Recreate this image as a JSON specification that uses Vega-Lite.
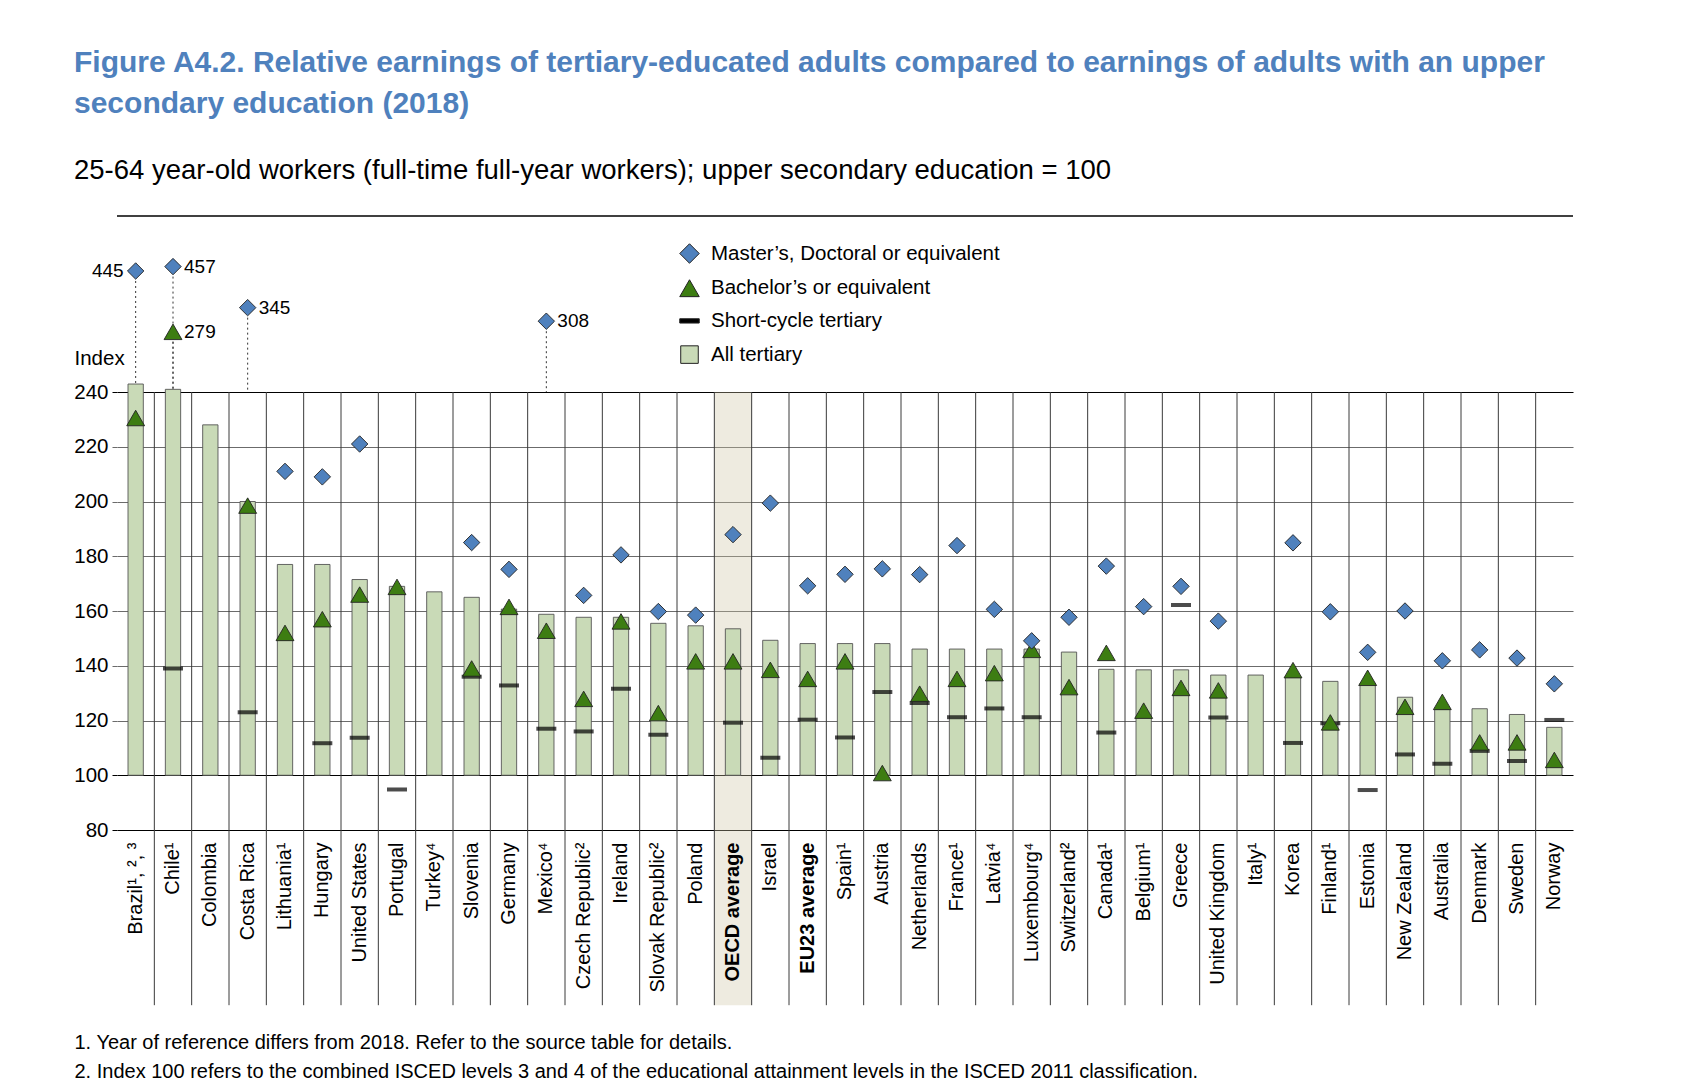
{
  "$schema": "https://vega.github.io/schema/vega-lite/v6.json",
  "description": "Relative earnings of tertiary-educated adults, by level of tertiary education (2018)",
  "autosize": {"type": "none"},
  "padding": {"left": 117, "top": 216, "right": 134, "bottom": 255},
  "width": 1456,
  "height": 614,
  "title": {
    "text": ["Figure A4.2. Relative earnings of tertiary-educated adults compared to earnings of adults with an upper", "secondary education (2018)"],
    "subtitle": "25-64 year-old workers (full-time full-year workers); upper secondary education = 100",
    "anchor": "start",
    "frame": "group",
    "dx": -43,
    "fontSize": 30,
    "lineHeight": 41,
    "fontWeight": "bold",
    "color": "#4F81BD",
    "subtitleFontSize": 27.5,
    "subtitleColor": "#000000",
    "subtitlePadding": 38,
    "offset": 31,
    "limit": 1700
  },
  "datasets": {
    "edu": [
      {"c": "Brazil¹, ², ³", "l": "all", "v": 243},
      {"c": "Brazil¹, ², ³", "l": "bachelor", "v": 230.5},
      {"c": "Brazil¹, ², ³", "l": "master", "v": 445},
      {"c": "Chile¹", "l": "all", "v": 241},
      {"c": "Chile¹", "l": "short", "v": 139},
      {"c": "Chile¹", "l": "bachelor", "v": 279},
      {"c": "Chile¹", "l": "master", "v": 457},
      {"c": "Colombia", "l": "all", "v": 228},
      {"c": "Costa Rica", "l": "all", "v": 200},
      {"c": "Costa Rica", "l": "short", "v": 123},
      {"c": "Costa Rica", "l": "bachelor", "v": 198.5},
      {"c": "Costa Rica", "l": "master", "v": 345},
      {"c": "Lithuania¹", "l": "all", "v": 177},
      {"c": "Lithuania¹", "l": "bachelor", "v": 152},
      {"c": "Lithuania¹", "l": "master", "v": 211},
      {"c": "Hungary", "l": "all", "v": 177},
      {"c": "Hungary", "l": "short", "v": 111.7},
      {"c": "Hungary", "l": "bachelor", "v": 157},
      {"c": "Hungary", "l": "master", "v": 209},
      {"c": "United States", "l": "all", "v": 171.5},
      {"c": "United States", "l": "short", "v": 113.7},
      {"c": "United States", "l": "bachelor", "v": 166},
      {"c": "United States", "l": "master", "v": 221},
      {"c": "Portugal", "l": "all", "v": 169},
      {"c": "Portugal", "l": "short", "v": 94.8},
      {"c": "Portugal", "l": "bachelor", "v": 168.8},
      {"c": "Turkey⁴", "l": "all", "v": 167},
      {"c": "Slovenia", "l": "all", "v": 165},
      {"c": "Slovenia", "l": "short", "v": 136},
      {"c": "Slovenia", "l": "bachelor", "v": 139},
      {"c": "Slovenia", "l": "master", "v": 185},
      {"c": "Germany", "l": "all", "v": 160.7},
      {"c": "Germany", "l": "short", "v": 132.8},
      {"c": "Germany", "l": "bachelor", "v": 161.5},
      {"c": "Germany", "l": "master", "v": 175.2},
      {"c": "Mexico⁴", "l": "all", "v": 158.8},
      {"c": "Mexico⁴", "l": "short", "v": 117},
      {"c": "Mexico⁴", "l": "bachelor", "v": 152.8},
      {"c": "Mexico⁴", "l": "master", "v": 308},
      {"c": "Czech Republic²", "l": "all", "v": 157.7},
      {"c": "Czech Republic²", "l": "short", "v": 116},
      {"c": "Czech Republic²", "l": "bachelor", "v": 127.9},
      {"c": "Czech Republic²", "l": "master", "v": 165.7},
      {"c": "Ireland", "l": "all", "v": 157.7},
      {"c": "Ireland", "l": "short", "v": 131.6},
      {"c": "Ireland", "l": "bachelor", "v": 156.2},
      {"c": "Ireland", "l": "master", "v": 180.5},
      {"c": "Slovak Republic²", "l": "all", "v": 155.5},
      {"c": "Slovak Republic²", "l": "short", "v": 114.8},
      {"c": "Slovak Republic²", "l": "bachelor", "v": 122.7},
      {"c": "Slovak Republic²", "l": "master", "v": 159.8},
      {"c": "Poland", "l": "all", "v": 154.6},
      {"c": "Poland", "l": "bachelor", "v": 141.6},
      {"c": "Poland", "l": "master", "v": 158.5},
      {"c": "OECD average", "l": "all", "v": 153.5},
      {"c": "OECD average", "l": "short", "v": 119.2},
      {"c": "OECD average", "l": "bachelor", "v": 141.6},
      {"c": "OECD average", "l": "master", "v": 187.9},
      {"c": "Israel", "l": "all", "v": 149.3},
      {"c": "Israel", "l": "short", "v": 106.4},
      {"c": "Israel", "l": "bachelor", "v": 138.5},
      {"c": "Israel", "l": "master", "v": 199.4},
      {"c": "EU23 average", "l": "all", "v": 148.1},
      {"c": "EU23 average", "l": "short", "v": 120.3},
      {"c": "EU23 average", "l": "bachelor", "v": 135.2},
      {"c": "EU23 average", "l": "master", "v": 169.2},
      {"c": "Spain¹", "l": "all", "v": 148.1},
      {"c": "Spain¹", "l": "short", "v": 113.8},
      {"c": "Spain¹", "l": "bachelor", "v": 141.6},
      {"c": "Spain¹", "l": "master", "v": 173.4},
      {"c": "Austria", "l": "all", "v": 148.1},
      {"c": "Austria", "l": "short", "v": 130.4},
      {"c": "Austria", "l": "bachelor", "v": 100.8},
      {"c": "Austria", "l": "master", "v": 175.4},
      {"c": "Netherlands", "l": "all", "v": 146.1},
      {"c": "Netherlands", "l": "short", "v": 126.4},
      {"c": "Netherlands", "l": "bachelor", "v": 129.8},
      {"c": "Netherlands", "l": "master", "v": 173.3},
      {"c": "France¹", "l": "all", "v": 146.1},
      {"c": "France¹", "l": "short", "v": 121.2},
      {"c": "France¹", "l": "bachelor", "v": 135.2},
      {"c": "France¹", "l": "master", "v": 183.9},
      {"c": "Latvia⁴", "l": "all", "v": 146.1},
      {"c": "Latvia⁴", "l": "short", "v": 124.4},
      {"c": "Latvia⁴", "l": "bachelor", "v": 137.3},
      {"c": "Latvia⁴", "l": "master", "v": 160.6},
      {"c": "Luxembourg⁴", "l": "all", "v": 146.1},
      {"c": "Luxembourg⁴", "l": "short", "v": 121.2},
      {"c": "Luxembourg⁴", "l": "bachelor", "v": 145.8},
      {"c": "Luxembourg⁴", "l": "master", "v": 149.1},
      {"c": "Switzerland²", "l": "all", "v": 145},
      {"c": "Switzerland²", "l": "bachelor", "v": 132.2},
      {"c": "Switzerland²", "l": "master", "v": 157.7},
      {"c": "Canada¹", "l": "all", "v": 138.7},
      {"c": "Canada¹", "l": "short", "v": 115.6},
      {"c": "Canada¹", "l": "bachelor", "v": 144.7},
      {"c": "Canada¹", "l": "master", "v": 176.4},
      {"c": "Belgium¹", "l": "all", "v": 138.5},
      {"c": "Belgium¹", "l": "bachelor", "v": 123.6},
      {"c": "Belgium¹", "l": "master", "v": 161.6},
      {"c": "Greece", "l": "all", "v": 138.5},
      {"c": "Greece", "l": "short", "v": 162.2},
      {"c": "Greece", "l": "bachelor", "v": 131.9},
      {"c": "Greece", "l": "master", "v": 169},
      {"c": "United Kingdom", "l": "all", "v": 136.6},
      {"c": "United Kingdom", "l": "short", "v": 121.1},
      {"c": "United Kingdom", "l": "bachelor", "v": 131},
      {"c": "United Kingdom", "l": "master", "v": 156.3},
      {"c": "Italy¹", "l": "all", "v": 136.6},
      {"c": "Korea", "l": "all", "v": 136},
      {"c": "Korea", "l": "short", "v": 111.8},
      {"c": "Korea", "l": "bachelor", "v": 138.4},
      {"c": "Korea", "l": "master", "v": 184.9},
      {"c": "Finland¹", "l": "all", "v": 134.3},
      {"c": "Finland¹", "l": "short", "v": 119},
      {"c": "Finland¹", "l": "bachelor", "v": 119.3},
      {"c": "Finland¹", "l": "master", "v": 159.7},
      {"c": "Estonia", "l": "all", "v": 133.6},
      {"c": "Estonia", "l": "short", "v": 94.6},
      {"c": "Estonia", "l": "bachelor", "v": 135.6},
      {"c": "Estonia", "l": "master", "v": 144.9},
      {"c": "New Zealand", "l": "all", "v": 128.5},
      {"c": "New Zealand", "l": "short", "v": 107.6},
      {"c": "New Zealand", "l": "bachelor", "v": 125},
      {"c": "New Zealand", "l": "master", "v": 160},
      {"c": "Australia", "l": "all", "v": 124},
      {"c": "Australia", "l": "short", "v": 104.2},
      {"c": "Australia", "l": "bachelor", "v": 126.8},
      {"c": "Australia", "l": "master", "v": 141.8},
      {"c": "Denmark", "l": "all", "v": 124.3},
      {"c": "Denmark", "l": "short", "v": 108.9},
      {"c": "Denmark", "l": "bachelor", "v": 112},
      {"c": "Denmark", "l": "master", "v": 145.8},
      {"c": "Sweden", "l": "all", "v": 122.2},
      {"c": "Sweden", "l": "short", "v": 105.2},
      {"c": "Sweden", "l": "bachelor", "v": 112},
      {"c": "Sweden", "l": "master", "v": 142.8},
      {"c": "Norway", "l": "all", "v": 117.5},
      {"c": "Norway", "l": "short", "v": 120.2},
      {"c": "Norway", "l": "bachelor", "v": 105.6},
      {"c": "Norway", "l": "master", "v": 133.4}
    ]
  },
  "data": {"name": "edu"},
  "layer": [
    {
      "transform": [{"filter": "datum.l == 'all'"}],
      "mark": {"type": "bar", "fill": "#C9DAB7", "width": {"band": 0.41}, "opacity": 0},
      "encoding": {
        "x": {
          "field": "c", "type": "nominal", "sort": null,
          "scale": {"paddingInner": 0, "paddingOuter": 0},
          "axis": {
            "orient": "bottom",
            "zindex": 1,
            "domain": false,
            "ticks": false,
            "tickSize": 0,
            "labelAngle": 270,
            "labelFontSize": 20,
            "labelPadding": 12,
            "labelColor": "#000000",
            "labelLimit": 0,
            "labelOverlap": false,
            "labelFontWeight": {"condition": {"test": "indexof(datum.label, 'average') >= 0", "value": "bold"}, "value": "normal"},
            "title": ["1. Year of reference differs from 2018. Refer to the source table for details.", "2. Index 100 refers to the combined ISCED levels 3 and 4 of the educational attainment levels in the ISCED 2011 classification."],
            "titleX": -43,
            "titleY": 202,
            "titleAlign": "left",
            "titleAnchor": "start",
            "titleBaseline": "top",
            "titleFontSize": 20,
            "titleFontWeight": "normal",
            "titleLineHeight": 29,
            "titleColor": "#000000",
            "titleLimit": 0
          }
        },
        "y": {
          "field": "v", "type": "quantitative",
          "scale": {"domain": [80, 240, 260, 595], "range": [614, 176, 122.8, 0], "zero": false, "nice": false},
          "axis": {
            "values": [80, 100, 120, 140, 160, 180, 200, 220, 240],
            "zindex": 0,
            "domain": false,
            "grid": true,
            "gridColor": {"condition": {"test": "datum.value == 80 || datum.value == 100 || datum.value == 240", "value": "#000000"}, "value": "#6b6b6b"},
            "gridWidth": 1.1,
            "tickColor": {"condition": {"test": "datum.value == 80 || datum.value == 100 || datum.value == 240", "value": "#000000"}, "value": "#6b6b6b"},
            "tickSize": 5,
            "labelFontSize": 20.5,
            "labelPadding": 4,
            "labelColor": "#000000",
            "title": "Index",
            "titleAngle": 0,
            "titleX": -43,
            "titleY": 142,
            "titleAlign": "left",
            "titleBaseline": "middle",
            "titleFontSize": 20.5,
            "titleFontWeight": "normal",
            "titleColor": "#000000"
          }
        },
        "y2": {"datum": 100}
      }
    },
    {
      "transform": [{"filter": "datum.l == 'all' && datum.c == 'OECD average'"}],
      "mark": {"type": "rect", "fill": "#CEC6A6", "opacity": 0.35},
      "encoding": {
        "x": {"field": "c", "type": "nominal", "sort": null},
        "y": {"datum": 240},
        "y2": {"datum": 16}
      }
    },
    {
      "data": {"values": [{"edge": "top"}]},
      "mark": {"type": "rule", "color": "#000000", "strokeWidth": 1.3},
      "encoding": {
        "y": {"datum": 595}
      }
    },
    {
      "transform": [{"filter": "datum.l == 'all' && indexof(datum.c, 'Brazil') < 0"}],
      "mark": {"type": "rule", "color": "#3a3a3a", "strokeWidth": 1},
      "encoding": {
        "x": {"field": "c", "type": "nominal", "sort": null, "bandPosition": 0},
        "y": {"datum": 240},
        "y2": {"datum": 16}
      }
    },
    {
      "transform": [{"filter": "datum.v > 240 && datum.l != 'all'"}],
      "mark": {"type": "rule", "color": "#333333", "strokeWidth": 1, "strokeDash": [2, 3]},
      "encoding": {
        "x": {"field": "c", "type": "nominal", "sort": null},
        "y": {"field": "v", "type": "quantitative"},
        "y2": {"datum": 240}
      }
    },
    {
      "transform": [{"filter": "datum.l == 'all'"}],
      "mark": {"type": "bar", "fill": "#C9DAB7", "stroke": "#555555", "strokeWidth": 0.9, "width": {"band": 0.41}},
      "encoding": {
        "x": {"field": "c", "type": "nominal", "sort": null},
        "y": {"field": "v", "type": "quantitative"},
        "y2": {"datum": 100}
      }
    },
    {
      "transform": [{"filter": "datum.l == 'short'"}],
      "mark": {"type": "tick", "color": "#000000", "thickness": 4, "size": 20},
      "encoding": {
        "x": {"field": "c", "type": "nominal", "sort": null},
        "y": {"field": "v", "type": "quantitative"}
      }
    },
    {
      "transform": [{"filter": "datum.l == 'master' || datum.l == 'bachelor'"}],
      "mark": {"type": "point", "filled": true, "opacity": 1, "stroke": "#222222", "strokeWidth": 0.9},
      "encoding": {
        "x": {"field": "c", "type": "nominal", "sort": null},
        "y": {"field": "v", "type": "quantitative"},
        "color": {
          "field": "l", "type": "nominal",
          "scale": {"domain": ["master", "bachelor", "short", "all"], "range": ["#4F81BD", "#3D7D12", "#000000", "#C9DAB7"]},
          "legend": {
            "orient": "none", "legendX": 562, "legendY": 27, "title": null,
            "symbolSize": 380, "symbolStrokeWidth": 1, "symbolOpacity": 1,
            "labelFontSize": 20.5, "labelColor": "#000000", "labelOffset": 11, "rowPadding": 11.7, "labelLimit": 0,
            "labelExpr": "{'master': 'Master’s, Doctoral or equivalent', 'bachelor': 'Bachelor’s or equivalent', 'short': 'Short-cycle tertiary', 'all': 'All tertiary'}[datum.label]"
          }
        },
        "shape": {
          "field": "l", "type": "nominal",
          "scale": {"domain": ["master", "bachelor", "short", "all"], "range": ["diamond", "triangle-up", "M-1,-0.22H1V0.22H-1Z", "M-0.9,-0.9H0.9V0.9H-0.9Z"]},
          "legend": {
            "orient": "none", "legendX": 562, "legendY": 27, "title": null,
            "symbolSize": 380, "symbolStrokeWidth": 1, "symbolOpacity": 1,
            "labelFontSize": 20.5, "labelColor": "#000000", "labelOffset": 11, "rowPadding": 11.7, "labelLimit": 0,
            "labelExpr": "{'master': 'Master’s, Doctoral or equivalent', 'bachelor': 'Bachelor’s or equivalent', 'short': 'Short-cycle tertiary', 'all': 'All tertiary'}[datum.label]"
          }
        },
        "size": {"condition": {"test": "datum.l == 'bachelor'", "value": 320}, "value": 270}
      }
    },
    {
      "transform": [{"filter": "datum.v > 240 && datum.l != 'all' && indexof(datum.c, 'Brazil') == 0"}],
      "mark": {"type": "text", "align": "right", "baseline": "middle", "dx": -12, "fontSize": 19, "color": "#000000"},
      "encoding": {
        "x": {"field": "c", "type": "nominal", "sort": null},
        "y": {"field": "v", "type": "quantitative"},
        "text": {"field": "v", "type": "quantitative", "format": "d"}
      }
    },
    {
      "transform": [{"filter": "datum.v > 240 && datum.l != 'all' && indexof(datum.c, 'Brazil') < 0"}],
      "mark": {"type": "text", "align": "left", "baseline": "middle", "dx": 11, "fontSize": 19, "color": "#000000"},
      "encoding": {
        "x": {"field": "c", "type": "nominal", "sort": null},
        "y": {"field": "v", "type": "quantitative"},
        "text": {"field": "v", "type": "quantitative", "format": "d"}
      }
    }
  ],
  "config": {
    "font": "Liberation Sans",
    "view": {"stroke": null},
    "background": "#ffffff"
  }
}
